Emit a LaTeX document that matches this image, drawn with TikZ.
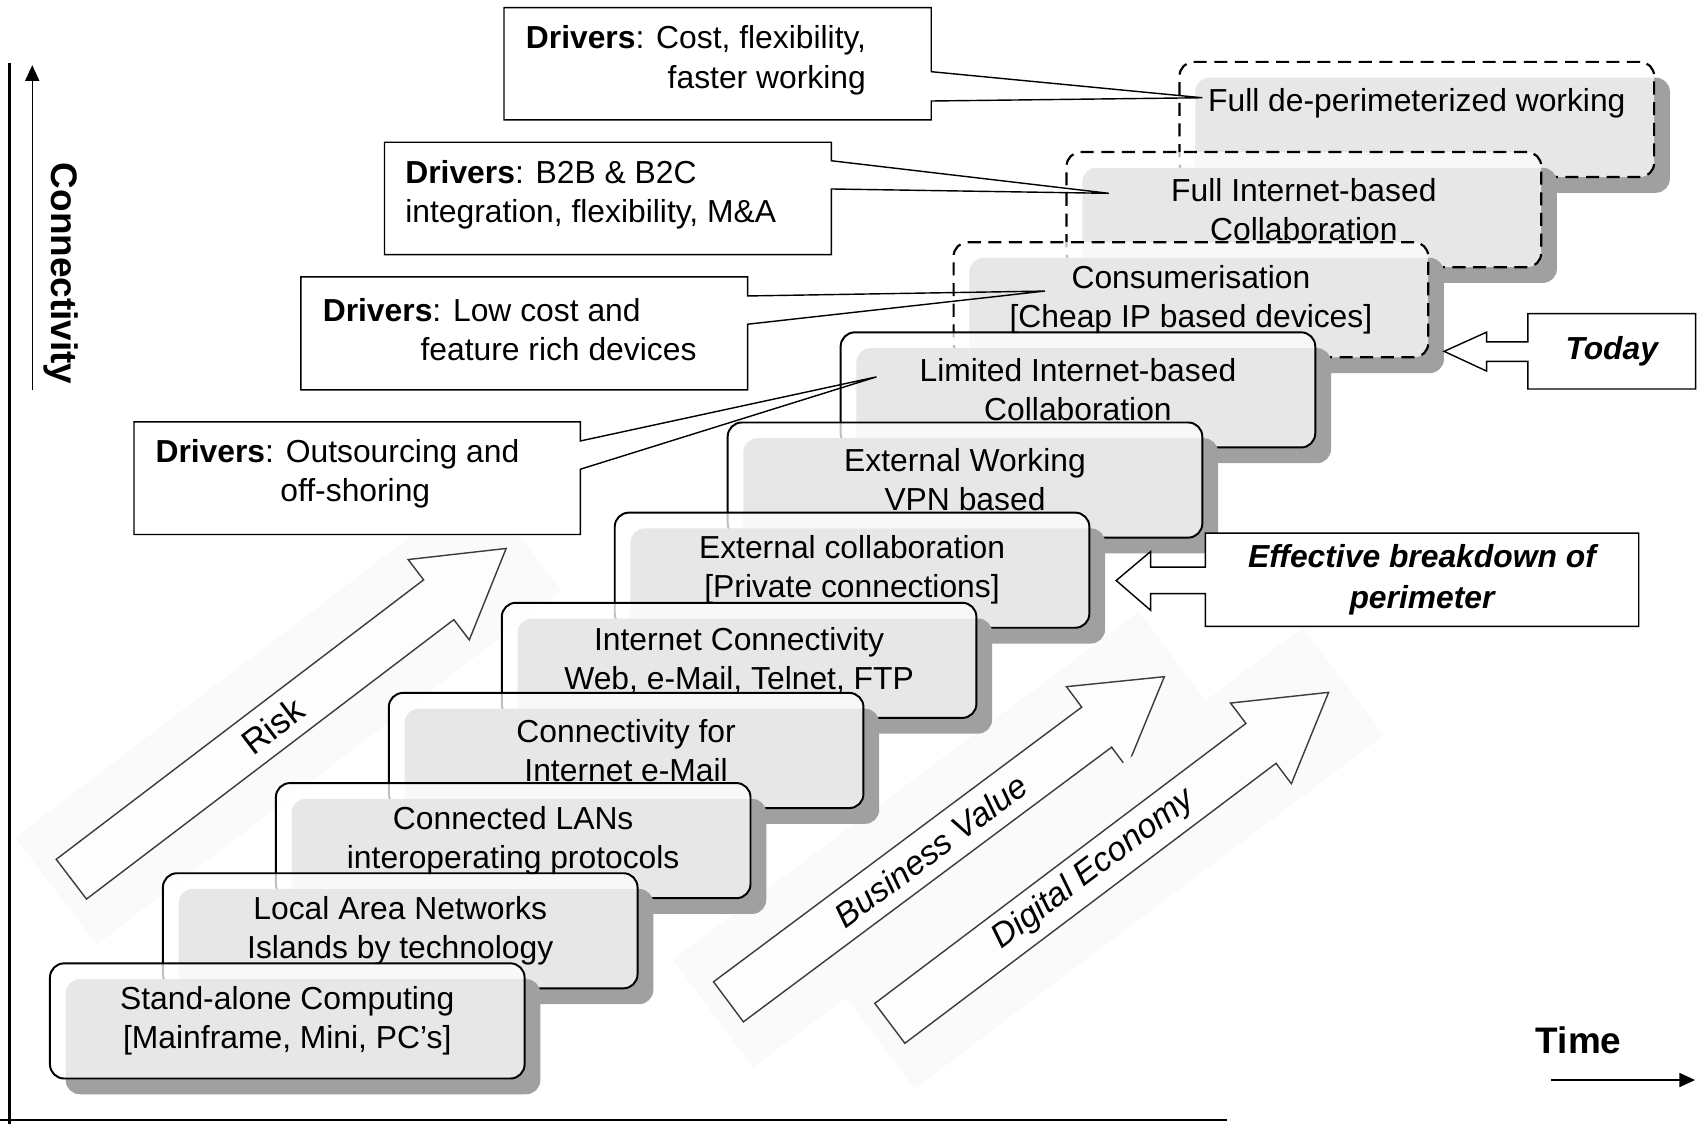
\documentclass[tikz,border=0pt]{standalone}
\usepackage{fontspec}
\setmainfont{Liberation Sans}
\usetikzlibrary{shadows,arrows.meta,calc}
\definecolor{shadowgray}{RGB}{160,160,160}
\definecolor{arrowline}{RGB}{60,60,60}
\definecolor{arrowbg}{RGB}{250,250,250}
\definecolor{arrowfill}{RGB}{253,253,253}
\newcommand{\mainsize}{\fontsize{29.3}{36}\selectfont}
\newcommand{\bigsize}{\fontsize{34}{40}\selectfont}
\begin{document}
\begin{tikzpicture}[x=1pt,y=-1pt,
  stepbox/.style={draw=black, line width=1.8pt, rounded corners=13pt,
    minimum width=437pt, minimum height=106pt, inner sep=0pt,
    fill=white, fill opacity=0.75, text opacity=1, align=center, font=\mainsize,
    drop shadow={shadow xshift=14.5pt, shadow yshift=-14.5pt, fill=shadowgray, opacity=1}},
  dashedbox/.style={stepbox, line width=2pt, dash pattern=on 12pt off 7pt},
  dspace/.style={draw=none, fill=white, inner sep=0pt, anchor=north west},
  dline/.style={draw=black, line width=1.3pt, line join=miter},
  dtext/.style={font=\mainsize, align=left, anchor=west, inner sep=0pt},
  bigarrow/.style={draw=arrowline, fill=arrowfill, line width=1.3pt, line join=miter},
  axisline/.style={line width=2pt},
  axisarrow/.style={line width=1.3pt, -{Triangle[length=14.5pt,width=13pt]}}
]
\useasboundingbox (0,0) rectangle (1568,1035);

% ---- big diagonal arrows ----
\begin{scope}[shift={(65.7,809.5)}, rotate=37.26]
  \fill[arrowbg] (-18,-62) rectangle (520,62);
  \draw[bigarrow] (0,-23) -- (425,-23) -- (425,-46.5) -- (503,0) -- (425,46.5) -- (425,23) -- (0,23) -- cycle;
  \node[transform shape, font=\fontsize{32}{38}\selectfont] (risk) at (233,0) {Risk};
\end{scope}
\begin{scope}[shift={(670.7,922.4)}, rotate=36.72]
  \fill[arrowbg] (-18,-62) rectangle (518,62);
  \draw[bigarrow] (0,-23) -- (423,-23) -- (423,-46.5) -- (500.7,0) -- (423,46.5) -- (423,23) -- (0,23) -- cycle;
  \node[transform shape, font=\fontsize{31}{37}\selectfont\itshape] (bv) at (233,0) {Business Value};
\end{scope}
\begin{scope}[shift={(819.3,942.2)}, rotate=37.03]
  \fill[arrowbg] (-18,-62) rectangle (523,62);
  \draw[bigarrow] (0,-23) -- (428,-23) -- (428,-46.5) -- (506,0) -- (428,46.5) -- (428,23) -- (0,23) -- cycle;
  \node[transform shape, font=\fontsize{31}{37}\selectfont\itshape] (de) at (235,0) {Digital Economy};
\end{scope}

% ---- axes ----
\coordinate (yaxtop) at (8.8,58.3);
\coordinate (yaxbot) at (8.8,1035);
\coordinate (xaxl) at (0,1031);
\coordinate (xaxr) at (1130,1031);
\draw[axisline] (yaxtop) -- (yaxbot);
\draw[axisline] (xaxl) -- (xaxr);
\coordinate (cb) at (29.7,359);
\coordinate (ct) at (29.7,60);
\draw[axisarrow] (cb) -- (ct);
\node[font=\bigsize\bfseries, rotate=-90] (conn) at (56.5,252) {Connectivity};
\coordinate (tl) at (1428,994.4);
\coordinate (tr) at (1560.7,994.4);
\draw[axisarrow] (tl) -- (tr);
\node[font=\bigsize\bfseries] (time) at (1453.5,958) {Time};

% ---- steps (top first, so lower ones lie over them) ----
\node[dashedbox] (s10) at (1304.5,110) {Full de-perimeterized working\\\phantom{Full}};
\node[dashedbox] (s9) at (1200.5,193) {Full Internet-based\\Collaboration};
\node[dashedbox] (s8) at (1096.5,276) {Consumerisation\\{[}Cheap IP based devices{]}};
\node[stepbox] (s7) at (992.5,359) {Limited Internet-based\\Collaboration};
\node[stepbox] (s6) at (888.5,442) {External Working\\VPN based};
\node[stepbox] (s5) at (784.5,525) {External collaboration\\{[}Private connections{]}};
\node[stepbox] (s4) at (680.5,608) {Internet Connectivity\\Web, e-Mail, Telnet, FTP};
\node[stepbox] (s3) at (576.5,691) {Connectivity for\\Internet e-Mail};
\node[stepbox] (s2) at (472.5,774) {Connected LANs\\interoperating protocols};
\node[stepbox] (s1) at (368.5,857) {Local Area Networks\\Islands by technology};
\node[stepbox] (s0) at (264.5,940) {Stand-alone Computing\\{[}Mainframe, Mini, PC’s{]}};

% ---- driver callouts ----
\coordinate (t1) at (1107,90);
\coordinate (t2) at (1021,178);
\coordinate (t3) at (962,268);
\coordinate (t4) at (807,347);

\node[dspace, minimum width=393pt, minimum height=103pt] (d1) at (464,7) {};
\draw[dline] (d1.north west) -- (d1.north east) -- ($(d1.north east)+(0,59)$) -- (t1)
  -- ($(d1.north east)+(0,86)$) -- (d1.south east) -- (d1.south west) -- cycle;
\node[dtext] (d1t) at (484,55.5) {\textbf{Drivers}: Cost, flexibility,\\\hspace*{130.6pt}faster working};

\node[dspace, minimum width=411pt, minimum height=103pt] (d2) at (354,131) {};
\draw[dline] (d2.north west) -- (d2.north east) -- ($(d2.north east)+(0,17)$) -- (t2)
  -- ($(d2.north east)+(0,43)$) -- (d2.south east) -- (d2.south west) -- cycle;
\node[dtext] (d2t) at (373,179) {\textbf{Drivers}: B2B \& B2C\\integration, flexibility, M\&A};

\node[dspace, minimum width=411pt, minimum height=103.5pt] (d3) at (277,255) {};
\draw[dline] (d3.north west) -- (d3.north east) -- ($(d3.north east)+(0,17.5)$) -- (t3)
  -- ($(d3.north east)+(0,43.5)$) -- (d3.south east) -- (d3.south west) -- cycle;
\node[dtext] (d3t) at (297,303.5) {\textbf{Drivers}: Low cost and\\\hspace*{90pt}feature rich devices};

\node[dspace, minimum width=410.6pt, minimum height=103.2pt] (d4) at (123.4,388.5) {};
\draw[dline] (d4.north west) -- (d4.north east) -- ($(d4.north east)+(0,17.5)$) -- (t4)
  -- ($(d4.north east)+(0,43.5)$) -- (d4.south east) -- (d4.south west) -- cycle;
\node[dtext] (d4t) at (143,436.5) {\textbf{Drivers}: Outsourcing and\\\hspace*{115pt}off-shoring};

% ---- Today / Effective breakdown callouts ----
\coordinate (todaytip) at (1329.6,323.5);
\node[draw=none, fill=white, minimum width=154pt, minimum height=69pt, inner sep=0pt,
  font=\mainsize\bfseries\itshape] (today) at (1484,323.5) {Today};
\draw[dline] (today.north west) -- (today.north east) -- (today.south east) -- (today.south west)
  -- ++(0,-25.5) -- ++(-38,0) -- ++(0,9) -- (todaytip) -- ($(today.north west)+(-38,17)$)
  -- ++(0,9) -- ($(today.north west)+(0,26)$) -- cycle;

\coordinate (efftip) at (1027.7,534.5);
\node[draw=none, fill=white, minimum width=398.6pt, minimum height=85.5pt, inner sep=0pt,
  align=center, font=\fontsize{29.3}{38.5}\selectfont\bfseries\itshape] (eff) at (1309.3,533.75)
  {Effective breakdown of\\perimeter};
\draw[dline] (eff.north west) -- (eff.north east) -- (eff.south east) -- (eff.south west)
  -- ++(0,-30.2) -- ++(-50.4,0) -- ++(0,15.4) -- (efftip) -- ($(eff.north west)+(-50.4,17)$)
  -- ++(0,14.4) -- ($(eff.north west)+(0,31.4)$) -- cycle;
\end{tikzpicture}
\end{document}
